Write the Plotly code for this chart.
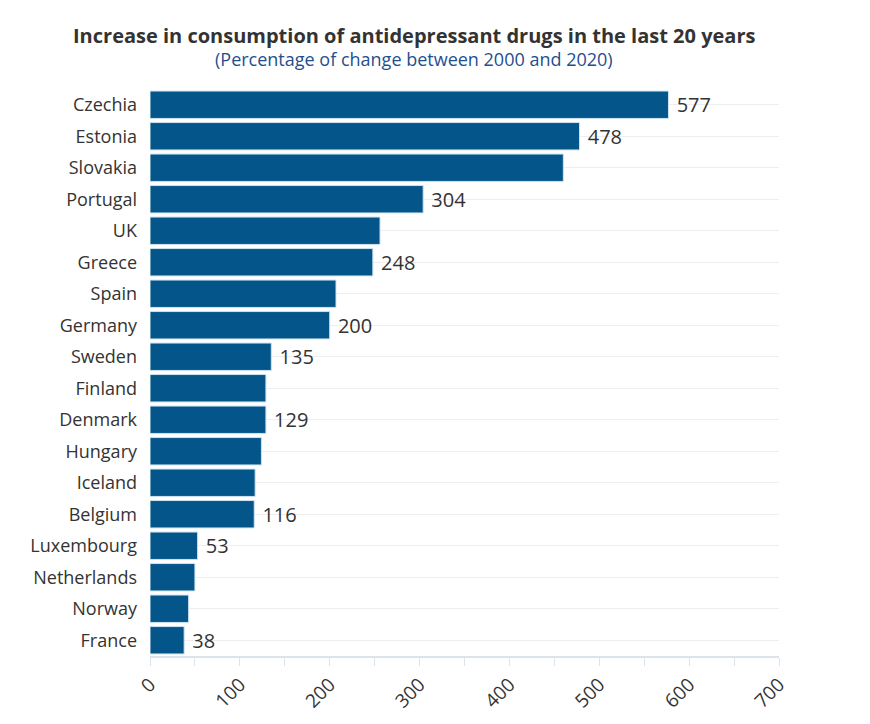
import plotly.graph_objects as go

countries = ["Czechia", "Estonia", "Slovakia", "Portugal", "UK", "Greece", "Spain",
             "Germany", "Sweden", "Finland", "Denmark", "Hungary", "Iceland",
             "Belgium", "Luxembourg", "Netherlands", "Norway", "France"]
change = [577, 478, 460, 304, 256, 248, 207, 200, 135, 129, 129, 124, 117, 116, 53, 50, 43, 38]
# only some bars carry a value label in the original
labels = ["577", "478", "", "304", "", "248", "", "200", "135", "", "129", "", "", "116", "53", "", "", "38"]

title = "Increase in consumption of antidepressant drugs in the last 20 years"
subtitle = "(Percentage of change between 2000 and 2020)"

fig = go.Figure(go.Bar(
    x=change, y=countries, orientation="h",
    text=[" " + t if t else "" for t in labels], textposition="outside", cliponaxis=False,
    textfont=dict(size=20, color="#333333"),
    marker=dict(color="#03558a", line=dict(color="#cfe3f0", width=1)),
    hoverinfo="x+y",
))

fig.update_layout(
    width=870, height=724,
    paper_bgcolor="white", plot_bgcolor="white",
    font=dict(family="Open Sans", color="#333333"),
    margin=dict(l=142, r=99, t=81, b=76),
    bargap=0.13,
    showlegend=False,
)
fig.add_annotation(text="<b>" + title + "</b>", xref="paper", yref="paper",
                   x=0.42, y=1.095, xanchor="center", yanchor="middle", showarrow=False,
                   font=dict(size=20, color="#333333"))
fig.add_annotation(text=subtitle, xref="paper", yref="paper",
                   x=0.42, y=1.053, xanchor="center", yanchor="middle", showarrow=False,
                   font=dict(size=18, color="#1f4f8f"))

fig.update_xaxes(
    range=[0, 700], dtick=100, tickangle=-45, showgrid=False, zeroline=False,
    ticks="outside", ticklen=8, tickcolor="#dde3ea",
    minor=dict(dtick=50, ticks="outside", ticklen=8, tickcolor="#dde3ea", showgrid=False),
    showline=True, linecolor="#dde3ea", linewidth=2,
    tickfont=dict(size=19, color="#333333"),
)
fig.update_yaxes(
    categoryorder="array", categoryarray=countries[::-1],
    showgrid=True, gridcolor="#eeeeee", ticks="", ticklen=0,
    ticklabelstandoff=12,
    tickfont=dict(size=18, color="#333333"),
)

fig.write_html("out.html")
